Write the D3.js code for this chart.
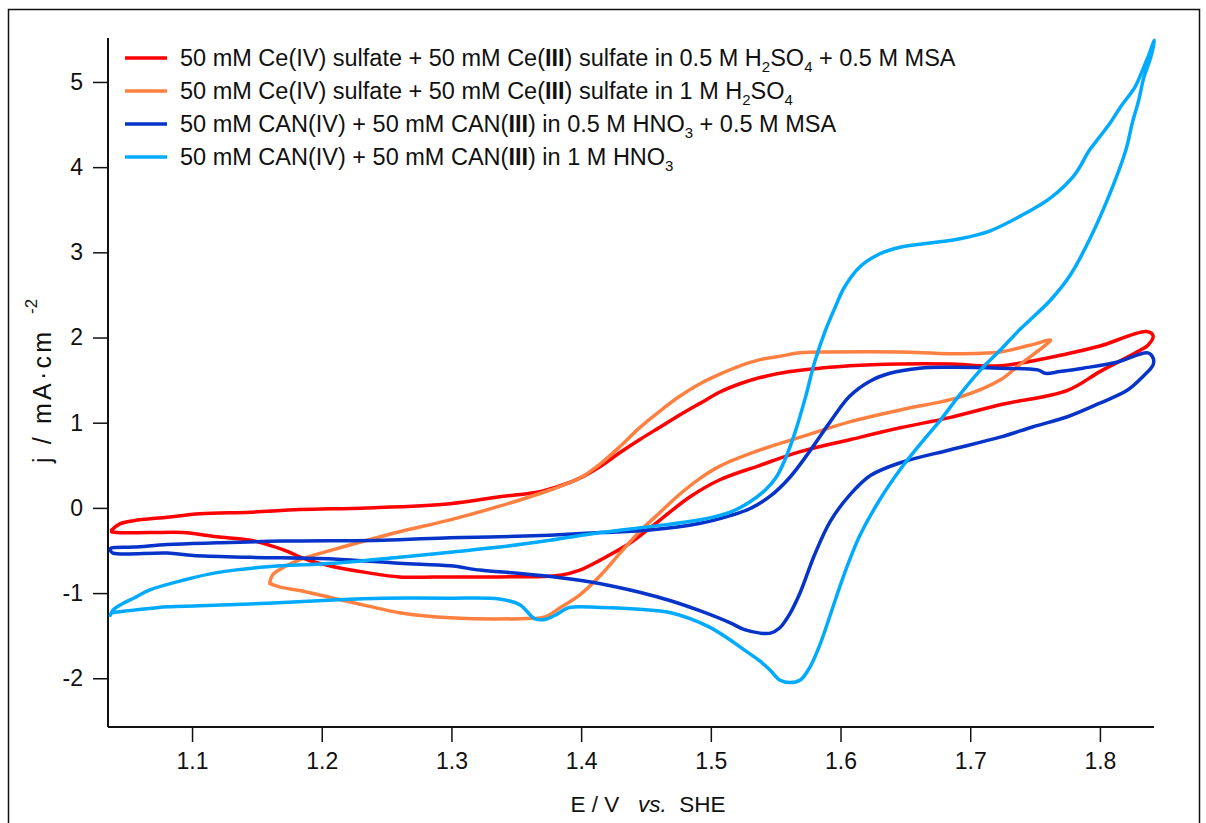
<!DOCTYPE html>
<html>
<head>
<meta charset="utf-8">
<script src="https://cdn.jsdelivr.net/npm/d3@7"></script>
<style>
  html, body { margin: 0; padding: 0; background: #fff; }
  svg { display: block; }
  text { font-family: "Liberation Sans", Arial, sans-serif; fill: #111; }
</style>
</head>
<body>
<svg id="chart" width="1206" height="823"></svg>
<script>
// Cyclic voltammograms: potential E (V vs. SHE) and current density j (mA/cm^2)
// Each loop runs forward (anodic) from the low-potential vertex, then back.

const ceMsaLoop = [
  [1.038,-0.26],[1.044,-0.19],[1.055,-0.15],[1.081,-0.11],[1.106,-0.07],[1.145,-0.05],
  [1.183,-0.02],[1.235,0.00],[1.299,0.05],[1.337,0.13],[1.368,0.19],[1.384,0.26],
  [1.399,0.35],[1.415,0.49],[1.430,0.65],[1.445,0.80],[1.461,0.95],[1.476,1.09],
  [1.492,1.23],[1.507,1.36],[1.523,1.46],[1.538,1.53],[1.561,1.60],[1.584,1.64],
  [1.607,1.67],[1.646,1.69],[1.684,1.69],[1.723,1.67],[1.775,1.81],[1.800,1.90],
  [1.836,2.07],[1.841,2.02],
  [1.837,1.91],[1.831,1.85],[1.800,1.60],[1.775,1.38],[1.723,1.21],[1.684,1.06],
  [1.646,0.94],[1.607,0.80],[1.569,0.66],[1.538,0.50],[1.507,0.33],[1.484,0.13],
  [1.461,-0.14],[1.438,-0.41],[1.415,-0.61],[1.399,-0.73],[1.384,-0.79],[1.337,-0.81],
  [1.299,-0.81],[1.260,-0.81],[1.235,-0.76],[1.209,-0.69],[1.189,-0.61],[1.170,-0.49],
  [1.145,-0.38],[1.119,-0.34],[1.093,-0.29],[1.068,-0.29],[1.042,-0.29],[1.038,-0.28]
];

const ceSulfLoop = [
  [1.160,-0.87],[1.162,-0.79],[1.168,-0.72],[1.183,-0.61],[1.209,-0.49],[1.235,-0.38],
  [1.260,-0.28],[1.299,-0.14],[1.337,0.02],[1.376,0.21],[1.399,0.35],[1.415,0.52],
  [1.430,0.72],[1.445,0.94],[1.461,1.14],[1.476,1.31],[1.492,1.46],[1.507,1.57],
  [1.523,1.67],[1.538,1.74],[1.553,1.78],[1.569,1.82],[1.592,1.83],[1.646,1.83],
  [1.684,1.81],[1.723,1.83],[1.746,1.91],[1.762,1.97],
  [1.758,1.91],[1.738,1.68],[1.723,1.50],[1.692,1.30],[1.646,1.15],[1.607,1.01],
  [1.569,0.83],[1.538,0.68],[1.507,0.49],[1.492,0.35],[1.476,0.16],[1.461,-0.05],
  [1.445,-0.28],[1.430,-0.53],[1.415,-0.79],[1.399,-1.02],[1.384,-1.17],[1.372,-1.28],
  [1.353,-1.30],[1.299,-1.29],[1.260,-1.23],[1.235,-1.15],[1.209,-1.06],[1.183,-0.97],
  [1.168,-0.93],[1.160,-0.89]
];

const canMsaLoop = [
  [1.037,-0.48],[1.038,-0.47],[1.055,-0.46],[1.081,-0.43],[1.119,-0.41],[1.170,-0.39],
  [1.247,-0.38],[1.299,-0.35],[1.337,-0.34],[1.376,-0.32],[1.415,-0.29],[1.453,-0.26],
  [1.492,-0.18],[1.515,-0.09],[1.530,-0.01],[1.546,0.14],[1.561,0.36],[1.576,0.66],
  [1.592,1.01],[1.607,1.31],[1.623,1.49],[1.638,1.58],[1.661,1.64],[1.684,1.65],
  [1.723,1.64],[1.752,1.62],[1.758,1.58],[1.769,1.60],[1.787,1.64],[1.813,1.71],
  [1.837,1.82],[1.841,1.76],
  [1.841,1.68],[1.833,1.54],[1.821,1.38],[1.800,1.23],[1.775,1.07],[1.748,0.95],
  [1.723,0.83],[1.684,0.68],[1.646,0.53],[1.623,0.38],[1.607,0.15],[1.592,-0.16],
  [1.580,-0.55],[1.569,-0.99],[1.561,-1.24],[1.553,-1.41],[1.546,-1.47],[1.538,-1.47],
  [1.526,-1.43],[1.515,-1.35],[1.492,-1.21],[1.469,-1.09],[1.445,-0.99],[1.415,-0.89],
  [1.384,-0.82],[1.353,-0.77],[1.322,-0.73],[1.299,-0.68],[1.260,-0.65],[1.209,-0.60],
  [1.145,-0.58],[1.101,-0.56],[1.081,-0.53],[1.039,-0.53],[1.037,-0.50]
];

const canNitricLoop = [
  [1.037,-1.26],[1.039,-1.20],[1.047,-1.12],[1.055,-1.06],[1.068,-0.96],[1.093,-0.85],
  [1.119,-0.76],[1.158,-0.69],[1.209,-0.65],[1.260,-0.58],[1.299,-0.52],[1.337,-0.46],
  [1.376,-0.38],[1.415,-0.29],[1.453,-0.22],[1.492,-0.14],[1.515,-0.05],[1.530,0.07],
  [1.542,0.21],[1.550,0.35],[1.557,0.56],[1.565,0.89],[1.573,1.30],[1.580,1.71],
  [1.588,2.07],[1.596,2.36],[1.603,2.59],[1.615,2.83],[1.630,2.98],[1.646,3.06],
  [1.669,3.11],[1.692,3.16],[1.715,3.25],[1.738,3.42],[1.762,3.64],[1.780,3.90],
  [1.792,4.20],[1.800,4.36],[1.808,4.52],[1.816,4.71],[1.827,4.94],[1.834,5.18],
  [1.837,5.29],[1.842,5.49],
  [1.839,5.28],[1.834,5.06],[1.830,4.79],[1.825,4.52],[1.820,4.20],[1.808,3.70],
  [1.792,3.15],[1.777,2.73],[1.762,2.44],[1.738,2.09],[1.723,1.85],[1.708,1.62],
  [1.692,1.33],[1.677,1.03],[1.661,0.74],[1.646,0.45],[1.630,0.09],[1.615,-0.32],
  [1.607,-0.61],[1.600,-0.90],[1.592,-1.26],[1.584,-1.61],[1.576,-1.88],[1.569,-2.02],
  [1.561,-2.05],[1.553,-2.02],[1.546,-1.91],[1.538,-1.80],[1.526,-1.67],[1.515,-1.55],
  [1.499,-1.40],[1.484,-1.30],[1.469,-1.23],[1.445,-1.19],[1.415,-1.17],[1.391,-1.17],
  [1.380,-1.26],[1.372,-1.31],[1.364,-1.30],[1.353,-1.14],[1.337,-1.07],[1.299,-1.06],
  [1.247,-1.06],[1.209,-1.08],[1.158,-1.12],[1.106,-1.15],[1.081,-1.16],[1.055,-1.20],
  [1.038,-1.23]
];

const xTicks = [1.1, 1.2, 1.3, 1.4, 1.5, 1.6, 1.7, 1.8];
const yTicks = [-2, -1, 0, 1, 2, 3, 4, 5];

const seriesColors = ["#ff0000", "#ff8040", "#0633c8", "#00aaff"];
const loops = [ceMsaLoop, ceSulfLoop, canMsaLoop, canNitricLoop];

// legend entries: arrays of [text, style] pieces ("sub" = subscript, "b" = bold)
const legendItems = [
  [["50 mM Ce(IV) sulfate + 50 mM Ce("],["III","b"],[") sulfate in 0.5 M H"],["2","sub"],["SO"],["4","sub"],[" + 0.5 M MSA"]],
  [["50 mM Ce(IV) sulfate + 50 mM Ce("],["III","b"],[") sulfate in 1 M H"],["2","sub"],["SO"],["4","sub"]],
  [["50 mM CAN(IV) + 50 mM CAN("],["III","b"],[") in 0.5 M HNO"],["3","sub"],[" + 0.5 M MSA"]],
  [["50 mM CAN(IV) + 50 mM CAN("],["III","b"],[") in 1 M HNO"],["3","sub"]]
];

const svg = d3.select("#chart");

// outer frame
svg.append("rect")
  .attr("x", 8.5).attr("y", 9.5)
  .attr("width", 1191).attr("height", 830)
  .attr("fill", "none").attr("stroke", "#111").attr("stroke-width", 1.5);

const plot = { left: 108, right: 1154, top: 38, bottom: 727 };

const x = d3.scaleLinear().domain([1.0352, 1.8417]).range([plot.left, plot.right]);
const y = d3.scaleLinear().domain([-2.572, 5.516]).range([plot.bottom, plot.top]);

// axes
const xAxis = d3.axisBottom(x).tickValues(xTicks).tickSize(15).tickPadding(11)
  .tickFormat(d3.format(".1f"));
const yAxis = d3.axisLeft(y).tickValues(yTicks).tickSize(15).tickPadding(10)
  .tickFormat(d => d < 0 ? "-" + Math.abs(d) : d);

const gx = svg.append("g").attr("transform", `translate(0,${plot.bottom})`).call(xAxis);
const gy = svg.append("g").attr("transform", `translate(${plot.left},0)`).call(yAxis);

[gx, gy].forEach(g => {
  g.select(".domain").attr("stroke", "#111").attr("stroke-width", 2);
  g.selectAll(".tick line").attr("stroke", "#111").attr("stroke-width", 1.5);
  g.selectAll(".tick text").attr("font-size", 23)
    .attr("font-family", "'Liberation Sans', Arial, sans-serif").attr("fill", "#111");
});
gx.select(".domain").attr("d", `M${plot.left},0H${plot.right}`);
gy.select(".domain").attr("d", `M0,${plot.top}V${plot.bottom}`);

// curves
const line = d3.line()
  .x(d => x(d[0])).y(d => y(d[1]))
  .curve(d3.curveCatmullRom.alpha(0.5));

svg.append("g")
  .selectAll("path")
  .data(loops)
  .join("path")
  .attr("d", d => line(d))
  .attr("fill", "none")
  .attr("stroke", (d, i) => seriesColors[i])
  .attr("stroke-width", 3.5)
  .attr("stroke-linejoin", "round")
  .attr("stroke-linecap", "round");

// legend
const legend = svg.append("g");
legendItems.forEach((pieces, i) => {
  const cy = 58 + i * 33;
  legend.append("line")
    .attr("x1", 125).attr("x2", 167).attr("y1", cy).attr("y2", cy)
    .attr("stroke", seriesColors[i]).attr("stroke-width", 3.5);
  const t = legend.append("text")
    .attr("x", 180).attr("y", cy + 8)
    .attr("font-size", 23.5);
  let lowered = false;
  pieces.forEach(([s, style]) => {
    const ts = t.append("tspan").text(s);
    if (style === "sub") {
      ts.attr("font-size", 15);
      if (!lowered) { ts.attr("dy", 6); lowered = true; }
    } else {
      if (lowered) { ts.attr("dy", -6); lowered = false; }
      if (style === "b") ts.attr("font-weight", "bold");
    }
  });
});

// y-axis title
const yt = svg.append("text")
  .attr("transform", "translate(51,463) rotate(-90)")
  .attr("font-size", 25);
yt.append("tspan").text("j / mA\u00B7cm").attr("textLength", 131).attr("lengthAdjust", "spacing");
svg.append("text")
  .attr("transform", "translate(37,314) rotate(-90)")
  .attr("font-size", 17)
  .text("-2");

// x-axis title
const xt = svg.append("text")
  .attr("x", 648).attr("y", 812)
  .attr("text-anchor", "middle")
  .attr("font-size", 22.5)
  .attr("xml:space", "preserve")
  .style("white-space", "pre");
xt.append("tspan").text("E / V   ");
xt.append("tspan").text("vs.").attr("font-style", "italic");
xt.append("tspan").text("  SHE");
</script>
</body>
</html>
